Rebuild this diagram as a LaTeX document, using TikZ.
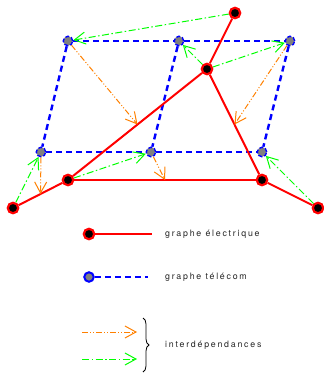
\documentclass[tikz,border=0pt]{standalone}
\usepackage{fontspec}
\setmainfont[LetterSpace=20]{TeX Gyre Heros}
\usepackage{tikz}
\usetikzlibrary{arrows.meta,decorations.pathreplacing}

\begin{document}
\begin{tikzpicture}[x=1pt, y=-1pt,
    elec/.style={draw=red, fill=black, circle, line width=2.2pt, inner sep=0pt, minimum size=10.5pt},
    tele/.style={draw=blue, fill=gray, circle, line width=1.4pt, inner sep=0pt, minimum size=9.5pt},
    eline/.style={red, line width=2pt},
    tline/.style={blue, line width=2.4pt, dash pattern=on 6pt off 4pt},
    dep/.style={line width=1pt, -{Straight Barb[length=11pt,width=12pt,line width=1pt]}},
    tdep/.style={dep, orange, dash pattern=on 6pt off 2pt on 1pt off 2pt on 1pt off 2pt},
    edep/.style={dep, green, dash pattern=on 7pt off 2.5pt on 1.5pt off 2.5pt},
    lbl/.style={anchor=west, font=\fontsize{8.8}{10}\selectfont, text=black!85, inner sep=0pt}]
  \useasboundingbox (0,0) rectangle (324,373);

  % telecom nodes
  \node[tele, dash pattern=on 4pt off 2pt] (T1) at (68,41) {};
  \node[tele, dash pattern=on 4pt off 2pt] (T2) at (179,41) {};
  \node[tele, dash pattern=on 4pt off 2pt] (T3) at (290,41) {};
  \node[tele, dash pattern=on 4pt off 2pt] (T4) at (41,152) {};
  \node[tele, dash pattern=on 4pt off 2pt] (T5) at (151,152) {};
  \node[tele, dash pattern=on 4pt off 2pt] (T6) at (262,152) {};

  % electric nodes
  \node[elec] (E1) at (235,13) {};
  \node[elec] (E2) at (207,69) {};
  \node[elec] (E3) at (68,180) {};
  \node[elec] (E4) at (262,180) {};
  \node[elec] (E5) at (13,208) {};
  \node[elec] (E6) at (318,208) {};

  % telecom graph
  \draw[tline] (T1) -- (T2) -- (T3);
  \draw[tline] (T4) -- (T5) -- (T6);
  \draw[tline] (T1) -- (T4);
  \draw[tline] (T2) -- (T5);
  \draw[tline] (T3) -- (T6);

  % electric graph
  \draw[eline] (E1) -- (E2);
  \draw[eline] (E2) -- coordinate[midway] (m23) (E3);
  \draw[eline] (E2) -- coordinate[midway] (m24) (E4);
  \draw[eline] (E3) -- coordinate[midway] (m34) (E4);
  \draw[eline] (E5) -- coordinate[midway] (m53) (E3);
  \draw[eline] (E4) -- (E6);

  % telecom -> electric
  \draw[tdep] (T1) -- (m23);
  \draw[tdep] (T3) -- (m24);
  \draw[tdep] (T5) -- (m34);
  \draw[tdep] (T4) -- (m53);

  % electric -> telecom
  \draw[edep] (E1) -- (T1);
  \draw[edep] (E2) -- (T2);
  \draw[edep] (E2) -- (T3);
  \draw[edep] (E3) -- (T5);
  \draw[edep] (E5) -- (T4);
  \draw[edep] (E6) -- (T6);

  % legend
  \node[elec] (L1) at (89,234) {};
  \coordinate (L1e) at (152,234);
  \draw[eline] (L1) -- (L1e);
  \node[lbl] (t1) at (165,234) {graphe électrique};

  \node[tele, line width=2pt] (L2) at (89,277) {};
  \coordinate (L2e) at (148,277);
  \draw[tline] (L2) -- (L2e);
  \node[lbl] (t2) at (165,277) {graphe télécom};

  \coordinate (A1) at (82,332);
  \coordinate (A1e) at (137,332);
  \coordinate (A2) at (82,359);
  \coordinate (A2e) at (137,359);
  \draw[tdep] (A1) -- (A1e);
  \draw[edep] (A2) -- (A2e);
  \coordinate (B1) at (143,318);
  \coordinate (B2) at (143,372);
  \draw[line width=0.8pt, decorate, decoration={brace, amplitude=6pt}] (B1) -- (B2);
  \node[lbl] (t3) at (165,345) {interdépendances};
\end{tikzpicture}
\end{document}
